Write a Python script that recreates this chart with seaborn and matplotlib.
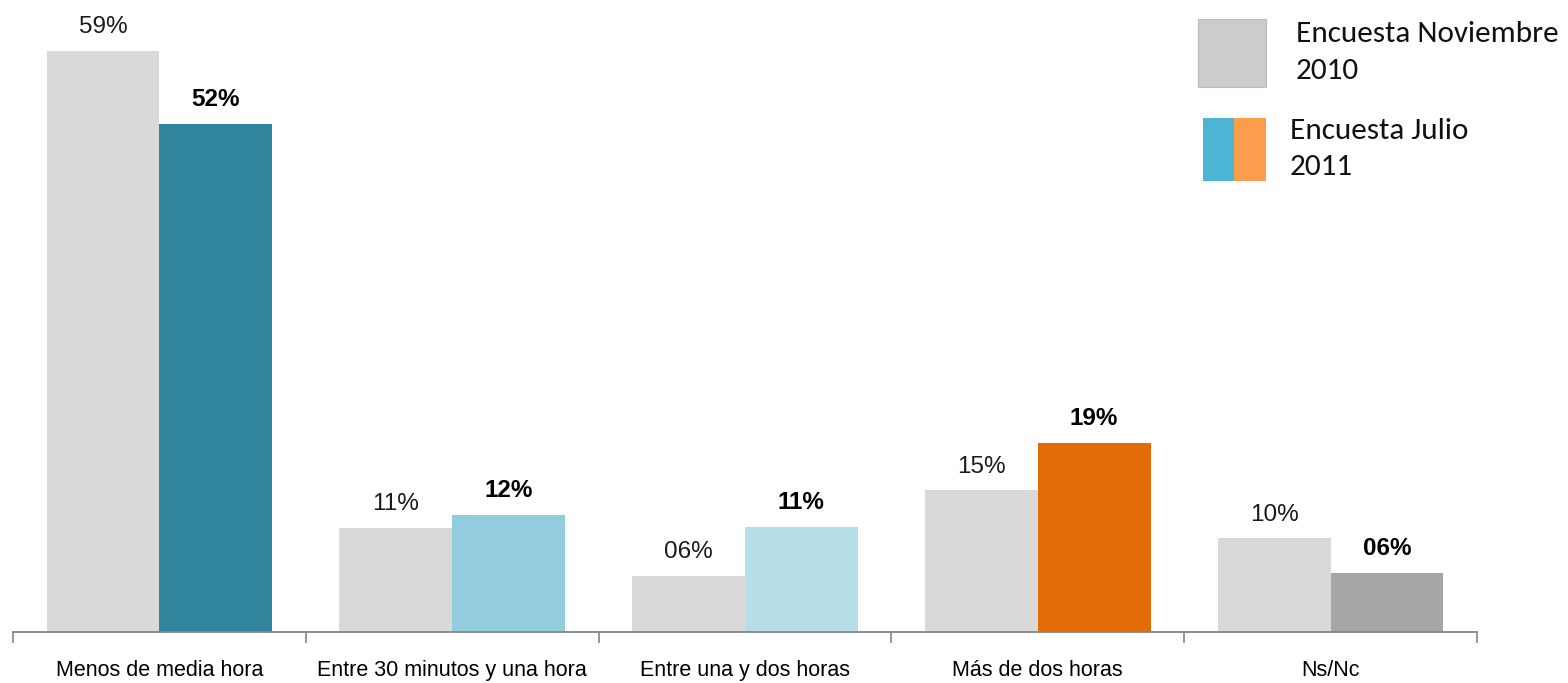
import numpy as np
import pandas as pd
import matplotlib
matplotlib.use("Agg")
import matplotlib.pyplot as plt
from matplotlib.patches import Rectangle
import seaborn as sns

# Data (bar heights, labels as printed)
categories = ["Menos de media hora", "Entre 30 minutos y una hora",
              "Entre una y dos horas", "Más de dos horas", "Ns/Nc"]
nov_2010 = [59, 10.6, 5.7, 14.4, 9.5]
jul_2011 = [51.6, 11.9, 10.7, 19.2, 6.0]
nov_labels = ["59%", "11%", "06%", "15%", "10%"]
jul_labels = ["52%", "12%", "11%", "19%", "06%"]
series_names = ["Encuesta Noviembre 2010", "Encuesta Julio 2011"]
jul_colors = ["#31859C", "#93CDDD", "#B7DEE8", "#E36C09", "#A6A6A6"]
nov_color = "#D9D9D9"

df = pd.DataFrame({
    "Categoria": categories * 2,
    "Valor": nov_2010 + jul_2011,
    "Encuesta": [series_names[0]] * len(categories) + [series_names[1]] * len(categories),
})

sns.set_style("white")
plt.rcParams['font.family'] = ['Liberation Sans', 'DejaVu Sans']

fig = plt.figure(figsize=(15.68, 6.83), dpi=100)
ax = fig.add_axes([13 / 1568, 51 / 683, (1477 - 13) / 1568, 632 / 683])

sns.barplot(data=df, x="Categoria", y="Valor", hue="Encuesta", order=categories,
            hue_order=series_names, palette=[nov_color, jul_colors[0]],
            width=0.77, gap=0, saturation=1, legend=False, ax=ax)

# recolor the 2011 bars one by one
for patch, c in zip(ax.containers[1], jul_colors):
    patch.set_facecolor(c)
    patch.set_edgecolor("none")
for patch in ax.containers[0]:
    patch.set_edgecolor("none")

# value labels
for patch, t in zip(ax.containers[0], nov_labels):
    ax.annotate(t, (patch.get_x() + patch.get_width() / 2, patch.get_height()),
                xytext=(0, 9), textcoords="offset points", ha="center", va="bottom",
                fontsize=17.5, color="#1a1a1a")
for patch, t in zip(ax.containers[1], jul_labels):
    ax.annotate(t, (patch.get_x() + patch.get_width() / 2, patch.get_height()),
                xytext=(0, 9), textcoords="offset points", ha="center", va="bottom",
                fontsize=17.5, fontweight="bold", color="#000000")

ax.set_xlim(-0.5, len(categories) - 0.5)
ax.set_ylim(0, 632 / 9.85)
ax.set_xlabel("")
ax.set_ylabel("")
ax.set_yticks([])
for s in ["top", "right", "left"]:
    ax.spines[s].set_visible(False)
ax.spines["bottom"].set_color("#868686")
ax.spines["bottom"].set_linewidth(1.3)

ax.set_xticks(np.arange(-0.5, len(categories)), minor=True)
ax.tick_params(axis="x", which="minor", bottom=True, length=8, width=1.2,
               color="#868686", direction="out")
ax.tick_params(axis="x", which="major", bottom=True, length=0, pad=20)
for lab in ax.get_xticklabels():
    lab.set_fontsize(15.5)
    lab.set_color("#000000")

# legend drawn by hand, like the original
fig.patches.append(Rectangle((1198 / 1568, 1 - 87 / 683), 68 / 1568, 68 / 683,
                             transform=fig.transFigure, facecolor="#CCCCCC",
                             edgecolor="#BBBBBB", linewidth=0.8))
fig.patches.append(Rectangle((1203 / 1568, 1 - 181 / 683), 31 / 1568, 63 / 683,
                             transform=fig.transFigure, facecolor="#4BB5D3",
                             edgecolor="none"))
fig.patches.append(Rectangle((1234 / 1568, 1 - 181 / 683), 32 / 1568, 63 / 683,
                             transform=fig.transFigure, facecolor="#FB9D4B",
                             edgecolor="none"))
leg_font = ['Carlito', 'Lato', 'DejaVu Sans']
fig.text(1296 / 1568, 1 - 34 / 683, "Encuesta Noviembre", fontsize=22.5, va="center",
         family=leg_font, color="#111111")
fig.text(1296 / 1568, 1 - 71 / 683, "2010", fontsize=22.5, va="center",
         family=leg_font, color="#111111")
fig.text(1290 / 1568, 1 - 131 / 683, "Encuesta Julio", fontsize=22.5, va="center",
         family=leg_font, color="#111111")
fig.text(1290 / 1568, 1 - 167 / 683, "2011", fontsize=22.5, va="center",
         family=leg_font, color="#111111")

fig.savefig("out.png", dpi=100, facecolor="white")
